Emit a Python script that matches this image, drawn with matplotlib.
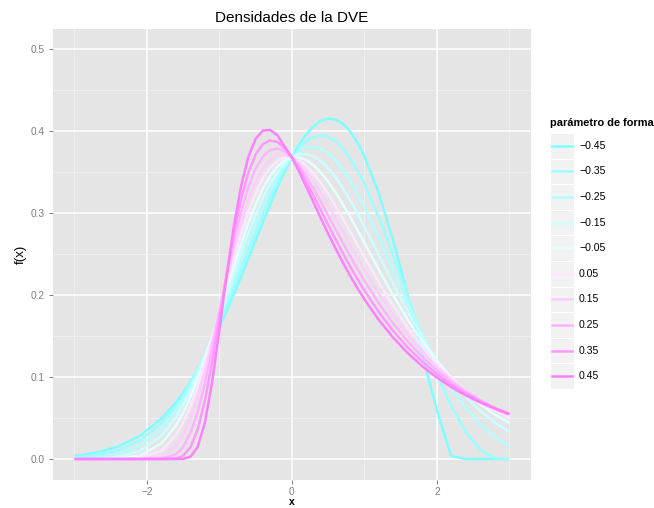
import matplotlib.pyplot as plt
from matplotlib.lines import Line2D
from matplotlib.patches import Rectangle

plt.rcParams["font.family"] = ["Liberation Sans", "DejaVu Sans"]

# valores de x compartidos por todas las curvas
x = [-3.0, -2.7, -2.4, -2.1, -1.8,
     -1.6, -1.5, -1.4, -1.3, -1.2, -1.1, -1.0, -0.9, -0.8, -0.7, -0.6, -0.5, -0.4, -0.3, -0.2, -0.1,
     0.0,
     0.1, 0.2, 0.3, 0.4, 0.5, 0.6, 0.7, 0.8, 0.9, 1.0,
     1.2, 1.4, 1.6, 1.8, 2.0, 2.2, 2.4, 2.6, 2.8, 3.0]

formas = [-0.45, -0.35, -0.25, -0.15, -0.05, 0.05, 0.15, 0.25, 0.35, 0.45]
etiquetas = ["\u22120.45", "\u22120.35", "\u22120.25", "\u22120.15", "\u22120.05",
             "0.05", "0.15", "0.25", "0.35", "0.45"]
colores = ["#80FFFF", "#99FFFF", "#B3FFFF", "#CCFFFF", "#E6FFFF",
           "#FFE6FF", "#FFCCFF", "#FFB3FF", "#FF99FF", "#FF80FF"]

f_m045 = [0.0036, 0.0076, 0.0150, 0.0281, 0.0492,
          0.0690, 0.0808, 0.0940, 0.1086, 0.1246, 0.1420, 0.1605, 0.1803, 0.2010, 0.2224, 0.2444, 0.2666, 0.2887, 0.3103, 0.3310, 0.3503,
          0.3679,
          0.3833, 0.3961, 0.4059, 0.4123, 0.4152, 0.4141, 0.4091, 0.4000, 0.3867, 0.3695,
          0.3240, 0.2658, 0.1989, 0.1281, 0.0596, 0.0036, 0.0, 0.0, 0.0, 0.0]
f_m035 = [0.0016, 0.0043, 0.0103, 0.0223, 0.0437,
          0.0648, 0.0777, 0.0922, 0.1082, 0.1259, 0.1450, 0.1653, 0.1867, 0.2089, 0.2315, 0.2541, 0.2764, 0.2980, 0.3183, 0.3370, 0.3537,
          0.3679,
          0.3793, 0.3877, 0.3928, 0.3945, 0.3928, 0.3876, 0.3791, 0.3674, 0.3528, 0.3355,
          0.2945, 0.2475, 0.1978, 0.1489, 0.1035, 0.0643, 0.0331, 0.0114, 0.0007, 0.0]
f_m025 = [0.0005, 0.0018, 0.0058, 0.0159, 0.0367,
          0.0589, 0.0729, 0.0888, 0.1067, 0.1263, 0.1475, 0.1700, 0.1934, 0.2173, 0.2412, 0.2646, 0.2869, 0.3078, 0.3268, 0.3433, 0.3571,
          0.3679,
          0.3754, 0.3797, 0.3806, 0.3783, 0.3728, 0.3644, 0.3533, 0.3399, 0.3245, 0.3075,
          0.2698, 0.2297, 0.1897, 0.1518, 0.1174, 0.0875, 0.0624, 0.0422, 0.0268, 0.0156]
f_m015 = [0.0001, 0.0004, 0.0024, 0.0095, 0.0282,
          0.0510, 0.0660, 0.0835, 0.1033, 0.1253, 0.1492, 0.1743, 0.2002, 0.2262, 0.2516, 0.2758, 0.2983, 0.3184, 0.3357, 0.3498, 0.3606,
          0.3679,
          0.3717, 0.3720, 0.3691, 0.3633, 0.3547, 0.3438, 0.3309, 0.3164, 0.3006, 0.2838,
          0.2488, 0.2136, 0.1799, 0.1487, 0.1208, 0.0965, 0.0758, 0.0585, 0.0445, 0.0332]
f_m005 = [0.0000, 0.0000, 0.0006, 0.0042, 0.0189,
          0.0408, 0.0565, 0.0755, 0.0976, 0.1225, 0.1495, 0.1779, 0.2069, 0.2355, 0.2629, 0.2881, 0.3106, 0.3297, 0.3451, 0.3566, 0.3642,
          0.3679,
          0.3679, 0.3646, 0.3583, 0.3494, 0.3383, 0.3255, 0.3112, 0.2960, 0.2800, 0.2637,
          0.2309, 0.1993, 0.1698, 0.1432, 0.1196, 0.0991, 0.0816, 0.0667, 0.0542, 0.0439]
f_p005 = [0.0, 0.0, 0.0000, 0.0010, 0.0099,
          0.0288, 0.0442, 0.0642, 0.0886, 0.1168, 0.1478, 0.1805, 0.2134, 0.2453, 0.2750, 0.3014, 0.3238, 0.3418, 0.3550, 0.3637, 0.3678,
          0.3679,
          0.3643, 0.3576, 0.3482, 0.3366, 0.3234, 0.3090, 0.2938, 0.2780, 0.2621, 0.2462,
          0.2154, 0.1865, 0.1603, 0.1369, 0.1165, 0.0987, 0.0834, 0.0704, 0.0593, 0.0500]
f_p015 = [0.0, 0.0, 0.0, 0.0001, 0.0032,
          0.0161, 0.0297, 0.0495, 0.0755, 0.1072, 0.1430, 0.1811, 0.2192, 0.2555, 0.2881, 0.3159, 0.3383, 0.3548, 0.3656, 0.3710, 0.3715,
          0.3679,
          0.3607, 0.3507, 0.3385, 0.3247, 0.3098, 0.2941, 0.2782, 0.2622, 0.2464, 0.2310,
          0.2018, 0.1752, 0.1514, 0.1306, 0.1124, 0.0967, 0.0832, 0.0717, 0.0617, 0.0533]
f_p025 = [0.0, 0.0, 0.0, 0.0, 0.0004,
          0.0057, 0.0149, 0.0318, 0.0577, 0.0924, 0.1338, 0.1787, 0.2237, 0.2656, 0.3022, 0.3319, 0.3541, 0.3689, 0.3768, 0.3786, 0.3753,
          0.3679,
          0.3572, 0.3442, 0.3294, 0.3136, 0.2972, 0.2807, 0.2642, 0.2481, 0.2325, 0.2175,
          0.1898, 0.1650, 0.1433, 0.1244, 0.1081, 0.0940, 0.0819, 0.0715, 0.0625, 0.0548]
f_p035 = [0.0, 0.0, 0.0, 0.0, 0.0,
          0.0007, 0.0040, 0.0143, 0.0360, 0.0713, 0.1182, 0.1716, 0.2258, 0.2755, 0.3172, 0.3493, 0.3714, 0.3840, 0.3887, 0.3865, 0.3792,
          0.3679,
          0.3538, 0.3378, 0.3208, 0.3033, 0.2857, 0.2684, 0.2516, 0.2355, 0.2201, 0.2056,
          0.1791, 0.1560, 0.1359, 0.1186, 0.1037, 0.0909, 0.0799, 0.0704, 0.0622, 0.0552]
f_p045 = [0.0, 0.0, 0.0, 0.0, 0.0,
          0.0000, 0.0002, 0.0027, 0.0146, 0.0444, 0.0942, 0.1574, 0.2238, 0.2843, 0.3332, 0.3685, 0.3904, 0.4006, 0.4013, 0.3948, 0.3811,
          0.3679,
          0.3504, 0.3317, 0.3126, 0.2936, 0.2750, 0.2572, 0.2402, 0.2241, 0.2090, 0.1949,
          0.1696, 0.1478, 0.1291, 0.1131, 0.0994, 0.0877, 0.0776, 0.0689, 0.0614, 0.0548]

densidades = [f_m045, f_m035, f_m025, f_m015, f_m005,
              f_p005, f_p015, f_p025, f_p035, f_p045]

W, H = 654, 508


def fx(px):
    return px / W


def fy(py):
    return 1 - py / H


fig = plt.figure(figsize=(W / 100, H / 100), dpi=100)
ax = fig.add_axes([fx(52.75), fy(479.5), fx(531) - fx(52.75), fy(28.5) - fy(479.5)])

ax.set_facecolor("#E5E5E5")
for s in ax.spines.values():
    s.set_visible(False)

for y, c in zip(densidades, colores):
    ax.plot(x, y, color=c, lw=1.8, solid_capstyle="butt", solid_joinstyle="round", zorder=3)

ax.set_xlim(-3.3, 3.3)
ax.set_ylim(-0.025, 0.525)
ax.set_xticks([-2, 0, 2])
ax.set_xticklabels(["\u22122", "0", "2"])
ax.set_xticks([-3, -1, 1, 3], minor=True)
ax.set_yticks([0.0, 0.1, 0.2, 0.3, 0.4, 0.5])
ax.set_yticklabels(["0.0", "0.1", "0.2", "0.3", "0.4", "0.5"])
ax.set_yticks([0.05, 0.15, 0.25, 0.35, 0.45], minor=True)

ax.grid(which="major", color="white", lw=1.1, zorder=1)
ax.grid(which="minor", color="#F2F2F2", lw=0.5, zorder=1)
ax.set_axisbelow(True)

ax.tick_params(which="major", length=3, width=0.7, color="#7F7F7F",
               labelcolor="#7F7F7F", labelsize=7.3, pad=2.5)
ax.tick_params(which="minor", length=0)

ax.set_xlabel("x", fontsize=7.5, fontweight="bold", labelpad=0)
ax.set_ylabel("f(x)", fontsize=9.5, labelpad=3)
ax.set_title("Densidades de la DVE", fontsize=11, pad=5)

# leyenda dibujada a mano
fig.text(fx(550), fy(123), "parámetro de forma", fontsize=7.9,
         fontweight="bold", va="center", ha="left")
alto = 25.6
for i, (et, c) in enumerate(zip(etiquetas, colores)):
    top = 133 + alto * i
    fig.add_artist(Rectangle((fx(550), fy(top + alto)), fx(573.5) - fx(550),
                             fy(top) - fy(top + alto), transform=fig.transFigure,
                             facecolor="#F2F2F2", edgecolor="white", lw=0.8))
    yc = fy(top + alto / 2)
    fig.add_artist(Line2D([fx(552), fx(572)], [yc, yc], transform=fig.transFigure,
                          color=c, lw=1.8))
    fig.text(fx(579), yc, et, fontsize=7.6, va="center", ha="left")

fig.savefig("out.png", dpi=100)
